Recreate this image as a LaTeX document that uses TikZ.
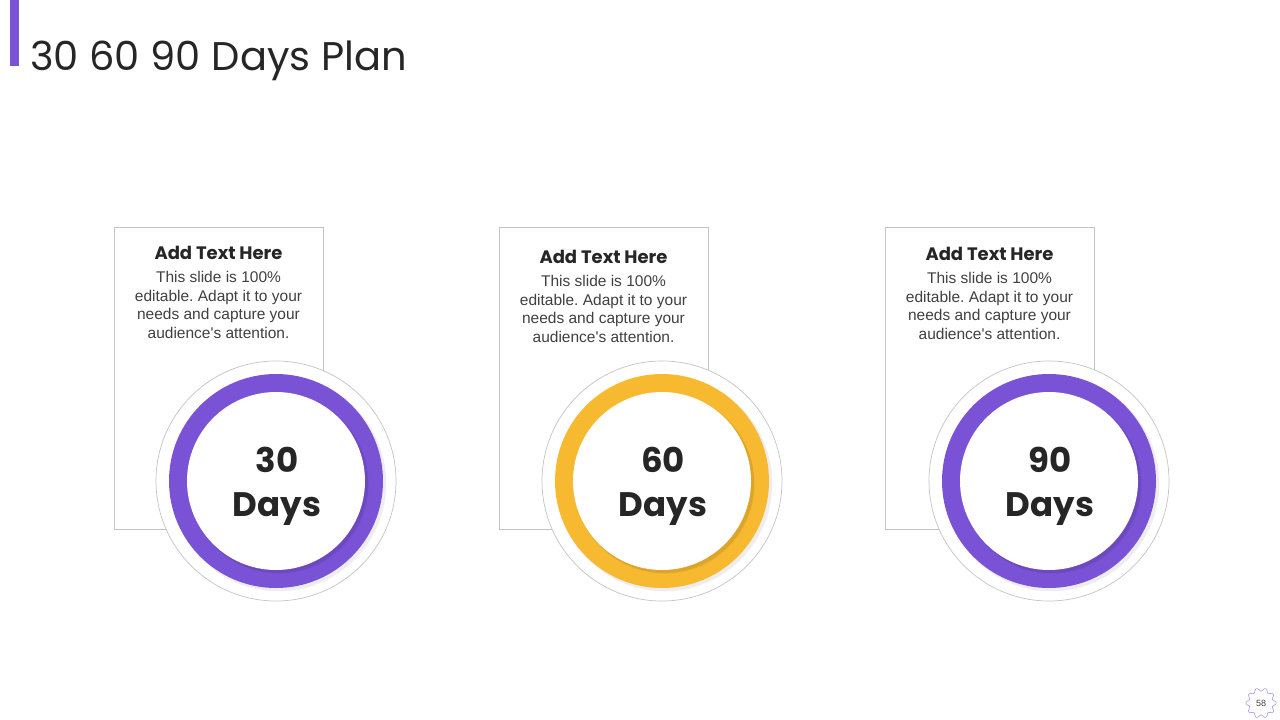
\documentclass[tikz,border=0pt]{standalone}
\usepackage{fontspec}
\setmainfont{Liberation Sans}
\newfontfamily\gothic{Poppins}
\usetikzlibrary{positioning}
\definecolor{planpurple}{HTML}{7A52D6}
\definecolor{planyellow}{HTML}{F7B92F}
\definecolor{boxgray}{HTML}{C4C4C4}
\definecolor{inkdark}{HTML}{262626}
\definecolor{inkgray}{HTML}{404040}
\frenchspacing

\begin{document}
\begin{tikzpicture}[x=1pt,y=-1pt,
  card/.style={draw=boxgray,line width=0.8pt,fill=white,minimum width=209pt,
    minimum height=302pt,anchor=north west,inner sep=0pt},
  halo/.style={circle,draw=boxgray,line width=0.7pt,fill=white,minimum size=240pt,inner sep=0pt},
  ring/.style={circle,fill=#1,minimum size=214pt,inner sep=0pt},
  hole/.style={circle,fill=white,minimum size=178pt,inner sep=0pt},
  cardhead/.style={font=\gothic\bfseries\fontsize{18}{20}\selectfont,text=inkdark,inner sep=0pt},
  cardbody/.style={font=\fontsize{15.5}{18.7}\selectfont,text=inkgray,align=center,inner sep=0pt},
  dayslabel/.style={font=\gothic\bfseries\fontsize{34}{44}\selectfont,text=inkdark,align=center,inner sep=0pt}]
\useasboundingbox (0,0) rectangle (1280,720);

% title
\fill[planpurple] (10,0) rectangle (19,66);
\node[anchor=base west,inner sep=0pt,text=inkdark,font=\gothic\fontsize{40}{48}\selectfont] (title) at (30,70) {30 60 90 Days Plan};

% three stages
\foreach \n/\bx/\cx/\col/\days/\dy in {1/114/276/planpurple/30/0, 2/499/662/planyellow/60/4, 3/885/1049/planpurple/90/1} {
  \node[card] (card\n) at (\bx,227) {};
  \node[cardhead] (head\n) at (\bx+104.5,253+\dy) {Add Text Here};
  \node[cardbody,below=11pt of head\n] (body\n) {This slide is 100\%\\editable. Adapt it to your\\needs and capture your\\audience\textquotesingle s attention.};
  \node[halo] (halo\n) at (\cx,481) {};
  \fill[black,opacity=0.04] (\cx+2,483) circle (108);
  \fill[black,opacity=0.03] (\cx+3,484) circle (107.5);
  \node[ring=\col] (ring\n) at (\cx,481) {};
  \fill[black,opacity=0.06] (\cx+2,483) circle (90);
  \fill[black,opacity=0.05] (\cx+3.5,484.5) circle (89);
  \node[hole] (hole\n) at (\cx,481) {};
  \node[dayslabel] (days\n) at (\cx+1,486) {\days\\Days};
}

% page number
\draw[planpurple!60,line width=0.6pt,shift={(1261,703)}]
  plot[domain=0:360,samples=181,smooth] ({(13.5+1.6*cos(10*\x))*cos(\x)},{(13.5+1.6*cos(10*\x))*sin(\x)});
\node[font=\fontsize{9}{10}\selectfont,text=inkgray,inner sep=0pt] (pagenum) at (1261,703) {58};
\end{tikzpicture}
\end{document}
